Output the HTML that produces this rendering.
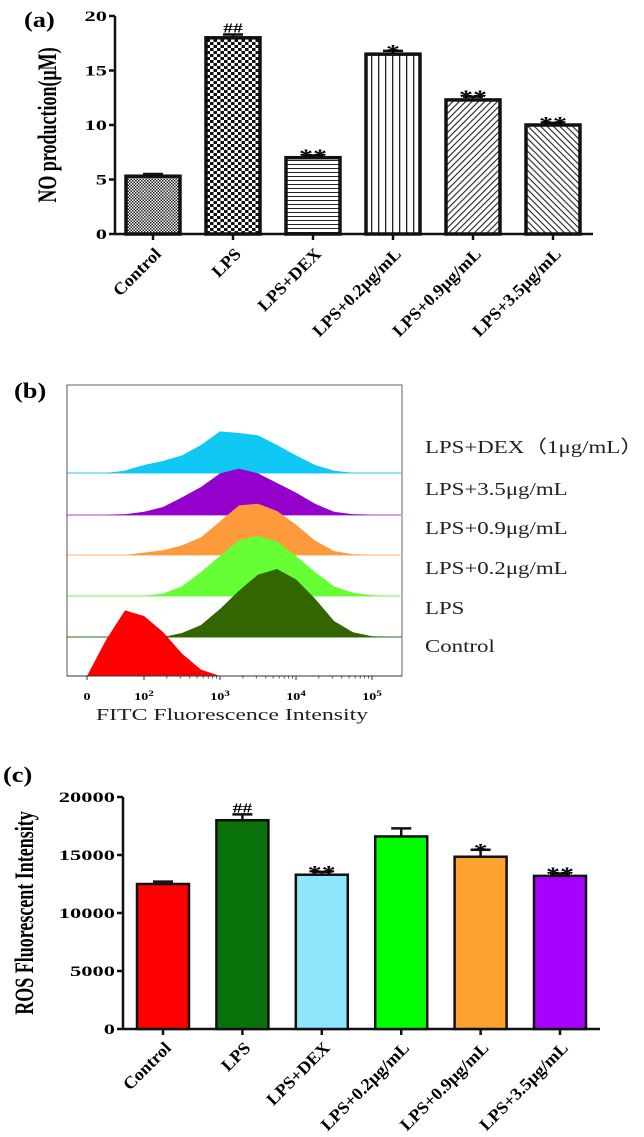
<!DOCTYPE html>
<html><head><meta charset="utf-8">
<style>
html,body{margin:0;padding:0;background:#fff;}
svg{display:block;}
.ser{font-family:"Liberation Serif",serif;}
</style></head>
<body>
<svg id="fig" width="644" height="1137" viewBox="0 0 644 1137" xmlns="http://www.w3.org/2000/svg" class="ser">
<defs>
 <pattern id="pCtrl" width="3" height="3" patternUnits="userSpaceOnUse"><rect width="3" height="3" fill="#fff"/><rect width="1.5" height="1.5" fill="#222"/><rect x="1.5" y="1.5" width="1.5" height="1.5" fill="#222"/></pattern>
 <pattern id="pLps" width="7" height="6" patternUnits="userSpaceOnUse"><rect width="7" height="6" fill="#fff"/><rect width="3.5" height="3" fill="#111"/><rect x="3.5" y="3" width="3.5" height="3" fill="#111"/></pattern>
 <pattern id="pDex" width="4" height="4" patternUnits="userSpaceOnUse"><rect width="4" height="4" fill="#fff"/><rect y="0" width="4" height="1" fill="#222"/></pattern>
 <pattern id="pV" width="7" height="5" patternUnits="userSpaceOnUse"><rect width="7" height="5" fill="#fff"/><rect x="0" width="1.3" height="5" fill="#222"/></pattern>
 <pattern id="pD1" width="4.5" height="4.5" patternUnits="userSpaceOnUse" patternTransform="rotate(45)"><rect width="4.5" height="4.5" fill="#fff"/><rect width="1.1" height="4.5" fill="#222"/></pattern>
 <pattern id="pD2" width="4.5" height="4.5" patternUnits="userSpaceOnUse" patternTransform="rotate(-45)"><rect width="4.5" height="4.5" fill="#fff"/><rect width="1.1" height="4.5" fill="#222"/></pattern>
</defs>
<g id="chartA"></g>
<g id="chartB"></g>
<g id="chartC"></g>
</svg>
<script>
const categories = ["Control","LPS","LPS+DEX","LPS+0.2μg/mL","LPS+0.9μg/mL","LPS+3.5μg/mL"];
const noValues = [5.3, 18.0, 7.0, 16.5, 12.3, 10.0];
const noErrors = [0.2, 0.3, 0.2, 0.3, 0.3, 0.2];
const noMarks = ["", "##", "**", "*", "**", "**"];
const noTicks = [0, 5, 10, 15, 20];
const rosValues = [12500, 18000, 13300, 16600, 14850, 13200];
const rosErrors = [200, 500, 250, 700, 600, 200];
const rosMarks = ["", "##", "**", "", "*", "**"];
const rosTicks = [0, 5000, 10000, 15000, 20000];
const histLabels = ["LPS+DEX（1μg/mL）","LPS+3.5μg/mL","LPS+0.9μg/mL","LPS+0.2μg/mL","LPS","Control"];
const histLogX = [1.25,1.5,1.75,2.0,2.25,2.5,2.75,3.0,3.25,3.5,3.75,4.0,4.25,4.5,4.75,5.0,5.25];
const histDex  = [0,0,3,10,15,22,35,52,50,47,35,22,10,3,0,0,0];
const hist35   = [0,0,1,4,10,22,35,52,58,52,40,28,14,4,1,0,0];
const hist09   = [0,0,0,3,6,12,22,42,62,64,55,38,18,5,1,0,0];
const hist02   = [0,0,0,0,3,12,30,50,70,75,68,50,30,12,4,1,0];
const histLps  = [0,0,0,0,0,5,15,35,58,78,85,72,48,20,6,1,0];
const histCtrl = [0,45,82,75,55,28,8,0,0,0,0,0,0,0,0,0,0];
const histTicks = ["0","10^2","10^3","10^4","10^5"];
const histTickLog = [1.25,2,3,4,5];

const NS="http://www.w3.org/2000/svg";
function mk(parent,tag,attrs,txt){const e=document.createElementNS(NS,tag);for(const k in attrs)e.setAttribute(k,attrs[k]);if(txt!==undefined)e.textContent=txt;parent.appendChild(e);return e;}

function barChart(g, cfg){
  const y = v => cfg.y0 - v / cfg.max * (cfg.y0 - cfg.yTop);
  const x = i => cfg.x0 + i * cfg.step;
  const ax = mk(g,'line',{x1:cfg.axX,y1:cfg.yTop,x2:cfg.axX,y2:cfg.y0,stroke:'#111','stroke-width':2.5});
  
  
  const xa = mk(g,'line',{x1:cfg.axX,y1:cfg.y0,x2:cfg.axEnd,y2:cfg.y0,stroke:'#111','stroke-width':2.5});
  
  
  cfg.ticks.forEach(t=>{
    mk(g,'line',{x1:cfg.axX-6,y1:y(t),x2:cfg.axX,y2:y(t),stroke:'#111','stroke-width':2.5});
    const tl = mk(g,'text',{transform:`translate(${cfg.axX-8},${y(t)+5}) scale(1.5,1)`,'text-anchor':'end','font-size':15,'font-weight':'bold'},String(t));
    
    
  });
  cfg.vals.forEach((v,i)=>{
    const cx = x(i);
    const top = y(v), etop = y(v + cfg.errs[i]);
    mk(g,'line',{x1:cx,y1:top,x2:cx,y2:etop,stroke:'#111','stroke-width':2.5});
    mk(g,'line',{x1:cx-10,y1:etop,x2:cx+10,y2:etop,stroke:'#111','stroke-width':2.5});
    const b = mk(g,'rect',{x:cx-cfg.bw/2,y:top,width:cfg.bw,height:cfg.y0-top,fill:cfg.fills[i],stroke:'#111','stroke-width':cfg.bs});
    
    
    mk(g,'line',{x1:cx,y1:cfg.y0,x2:cx,y2:cfg.y0+6,stroke:'#111','stroke-width':2.5});
    if(cfg.marks[i]){
      const isHash = cfg.marks[i][0]==='#';
      const m = mk(g,'text',{transform:`translate(${cx},${etop+(isHash?-2:7)}) scale(1.4,1)`,'text-anchor':'middle','font-size':isHash?14:20,'font-weight':'bold'},cfg.marks[i]);
      
      
    }
    const lx = cx+cfg.lblDx, ly = cfg.y0+cfg.lblDy;
    const cl = mk(g,'text',{transform:`translate(${lx},${ly}) rotate(-45) scale(1.2,1.15)`,'text-anchor':'end','font-size':15,'font-weight':'bold'},categories[i]);
    
    
  });
  const tx = cfg.titleX, ty = (cfg.yTop+cfg.y0)/2;
  const yt = mk(g,'text',{transform:`translate(${tx},${ty}) rotate(-90) scale(1,1.45)`,'text-anchor':'middle','font-size':18,'font-weight':'bold','dominant-baseline':'middle'},cfg.title);
  
  
  const pl = mk(g,'text',{transform:`translate(${cfg.panelX},${cfg.panelY}) scale(1.2,1)`,'font-size':22,'font-weight':'bold'},cfg.panel);
  
  
}

barChart(document.getElementById('chartA'),{
  vals:noValues,errs:noErrors,marks:noMarks,ticks:noTicks,max:20,
  y0:234,yTop:16,axX:115,axEnd:593,x0:153,step:80,bw:54,bs:3.5,
  fills:['url(#pCtrl)','url(#pLps)','url(#pDex)','url(#pV)','url(#pD1)','url(#pD2)'],
  lblDx:9,lblDy:21,
  title:'NO production(μM)',titleX:50,panel:'(a)',panelX:24,panelY:27
});
barChart(document.getElementById('chartC'),{
  vals:rosValues,errs:rosErrors,marks:rosMarks,ticks:rosTicks,max:20000,
  y0:1029,yTop:797,axX:123,axEnd:600,x0:163,step:79.4,bw:52,bs:2.5,
  fills:['#ff0000','#0a720a','#8fe6fc','#00ff00','#ffa12e','#a800ff'],
  lblDx:9,lblDy:20,
  title:'ROS Fluorescent Intensity',titleX:27,panel:'(c)',panelX:3,panelY:782
});

// Chart B
(function(){
  const g = document.getElementById('chartB');
  const L=67,T=385,R=402,B=676;
  const hScale=0.8;
  const lx = v => 144 + (v-2)*76;
  const bases=[473,515,555,596,637,676];
  const series=[histDex,hist35,hist09,hist02,histLps,histCtrl];
  const cols=['#10c8f4','#9400cc','#ff9a3c','#66ff33','#336600','#ff0000'];
  const lineCols=['#4fd4f4','#d69ee6','#ffc08a','#8cff70','#5a8a4a','#ff0000'];
  const defs=document.querySelector('defs');
  const cp=mk(defs,'clipPath',{id:'clipB'}); mk(cp,'rect',{x:L,y:T,width:R-L,height:B-T});
  const box = mk(g,'rect',{x:L,y:T,width:R-L,height:B-T,fill:'#fff',stroke:'#666','stroke-width':1});
  
  
  const labY=[447,489,528,568,608,646];
  series.forEach((s,k)=>{
    const b=bases[k];
    if(k<5){ const bl=mk(g,'line',{x1:L,y1:b,x2:R,y2:b,stroke:lineCols[k],'stroke-width':k===1?2:1.2});
      
       }
    let d='M'+lx(histLogX[0])+','+b;
    histLogX.forEach((v,i)=>{ d+=' L'+lx(v).toFixed(1)+','+(b-s[i]*hScale).toFixed(1); });
    d+=' L'+lx(histLogX[histLogX.length-1])+','+b+' Z';
    const p=mk(g,'path',{d:d,fill:cols[k],stroke:'none','clip-path':'url(#clipB)'});
    
    
    const t=mk(g,'text',{transform:`translate(425,${labY[k]+6}) scale(1.27,1)`,'font-size':18,fill:'#222'},histLabels[k]);
    
    
  });
  mk(g,'line',{x1:L,y1:T,x2:L,y2:B,stroke:'#555','stroke-width':1});
  mk(g,'line',{x1:L,y1:B,x2:R,y2:B,stroke:'#333','stroke-width':1});
  histTickLog.forEach((v,i)=>{
    mk(g,'line',{x1:lx(v),y1:B,x2:lx(v),y2:B+4,stroke:'#333','stroke-width':1});
    const lab=histTicks[i];
    const t=mk(g,'text',{transform:`translate(${lx(v)},700) scale(1.4,1)`,'text-anchor':'middle','font-size':10,'font-weight':'bold'});
    if(lab.indexOf('^')>0){ const [a,e]=lab.split('^'); t.textContent=a; mk(t,'tspan',{dy:-4,'font-size':8},e); }
    else t.textContent=lab;
    
    
  });
  for(let d=2;d<5;d++) for(let m=2;m<10;m++){ const xx=lx(d+Math.log10(m)); mk(g,'line',{x1:xx,y1:B,x2:xx,y2:B+2.5,stroke:'#333','stroke-width':0.8}); }
  const xt=mk(g,'text',{transform:'translate(232,720) scale(1.4,1)','text-anchor':'middle','font-size':17,fill:'#222'},'FITC Fluorescence Intensity');
  
  
  const pl=mk(g,'text',{transform:'translate(14,398) scale(1.2,1)','font-size':22,'font-weight':'bold'},'(b)');
  
  
})();
</script>
</body></html>
